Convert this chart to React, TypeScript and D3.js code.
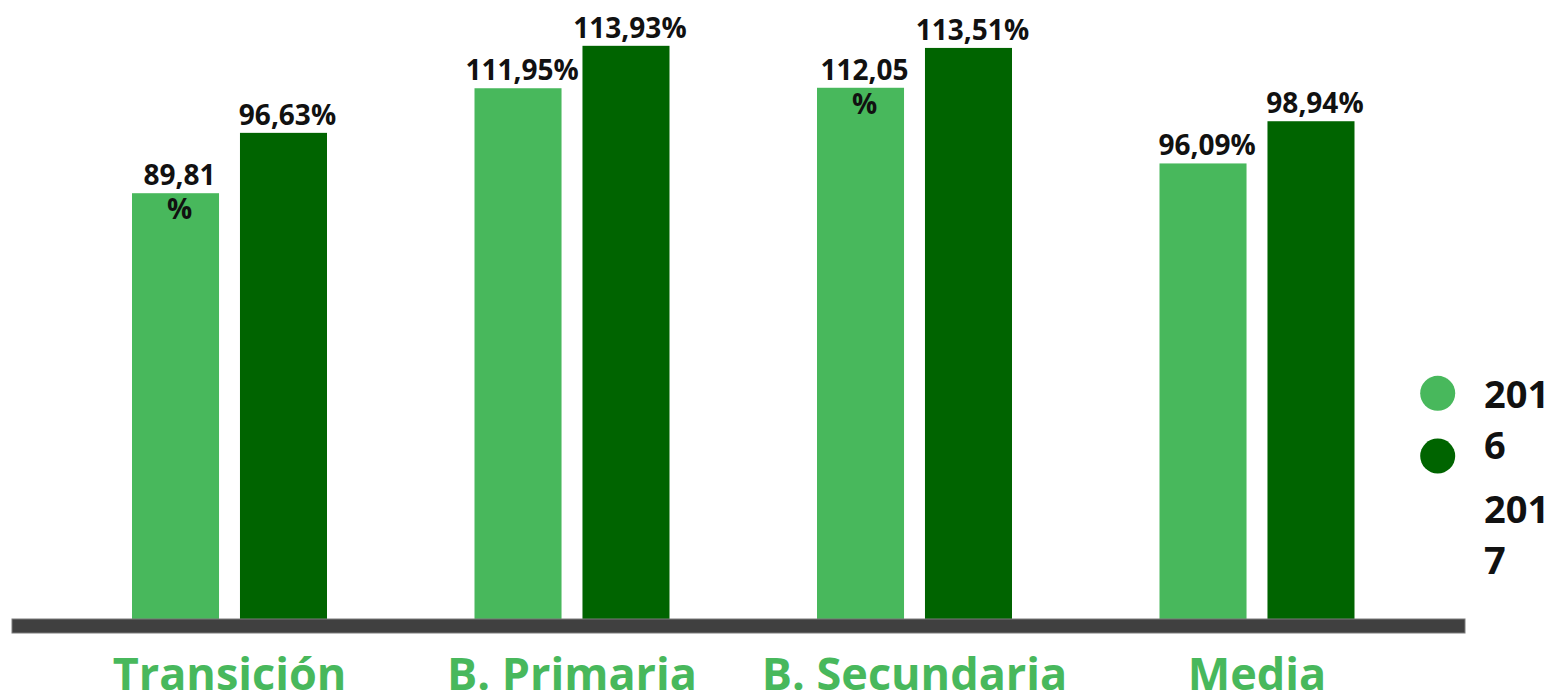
import React from "react";
import * as d3 from "d3";

const categories = ["Transición", "B. Primaria", "B. Secundaria", "Media"];
const seriesNames = ["2016", "2017"];
const values2016 = [89.81, 111.95, 112.05, 96.09];
const values2017 = [96.63, 113.93, 113.51, 98.94];
const wrapped2016 = [true, false, true, false];
const wrapped2017 = [false, false, false, false];
const legendLines = [["201", "6"], ["201", "7"]];

const W = 1560;
const H = 698;
const LIGHT = "#48B85C";
const DARK = "#006400";
const AXIS = "#404040";
const FONT = "'Open Sans', 'Noto Sans', sans-serif";

const fmt = (v: number) => v.toFixed(2).replace(".", ",") + "%";

export default function App() {
  const baseY = 619;
  const x0 = d3.scaleBand<string>().domain(categories).range([58.25, 1428.25]).padding(0);
  const x1 = d3.scaleBand<string>().domain(seriesNames).range([0, 195]).paddingInner(0.194);
  // 2016 and 2017 series are plotted against separate (primary / secondary) axes
  const y2016 = d3.scaleLinear().domain([0, 100]).range([baseY, baseY - 474.1]);
  const y2017 = d3.scaleLinear().domain([0, 100]).range([baseY, baseY - 503.1]);

  const series = [
    { name: "2016", values: values2016, wrapped: wrapped2016, y: y2016, color: LIGHT },
    { name: "2017", values: values2017, wrapped: wrapped2017, y: y2017, color: DARK },
  ];

  return (
    <svg width={W} height={H} style={{ position: "absolute", left: 0, top: 0, background: "#fff" }} fontFamily={FONT}>
      {series.map((s) =>
        categories.map((c, i) => {
          const gx = (x0(c) as number) + x0.bandwidth() / 2 - 97.5;
          const bx = gx + (x1(s.name) as number);
          const bw = x1.bandwidth();
          const top = s.y(s.values[i]);
          const label = fmt(s.values[i]);
          const cx = bx + bw / 2 + 4;
          return (
            <g key={s.name + c}>
              <rect x={bx} y={top} width={bw} height={baseY - top} fill={s.color} />
              {s.wrapped[i] ? (
                <text x={cx} y={top - 8} textAnchor="middle" fontSize={28} fontWeight={700} fill="#111">
                  <tspan x={cx}>{label.slice(0, -1)}</tspan>
                  <tspan x={cx} dy={34}>%</tspan>
                </text>
              ) : (
                <text x={cx} y={top - 8} textAnchor="middle" fontSize={28} fontWeight={700} fill="#111">
                  {label}
                </text>
              )}
            </g>
          );
        })
      )}
      <rect x={12} y={619} width={1453} height={14} fill={AXIS} stroke="#7a7a7a" strokeWidth={1} />
      {categories.map((c) => (
        <text
          key={c}
          x={(x0(c) as number) + x0.bandwidth() / 2}
          y={690}
          textAnchor="middle"
          fontSize={45}
          fontWeight={700}
          fill={LIGHT}
        >
          {c}
        </text>
      ))}
      {seriesNames.map((n, i) => (
        <circle key={n} cx={1437.7} cy={393.3 + i * 62.7} r={17.5} fill={i === 0 ? LIGHT : DARK} />
      ))}
      {legendLines.map((lines, i) =>
        lines.map((t, j) => (
          <text key={i + "-" + j} x={1484} y={408.3 + i * 114.7 + j * 50.5} fontSize={38} fontWeight={700} fill="#111">
            {t}
          </text>
        ))
      )}
    </svg>
  );
}
